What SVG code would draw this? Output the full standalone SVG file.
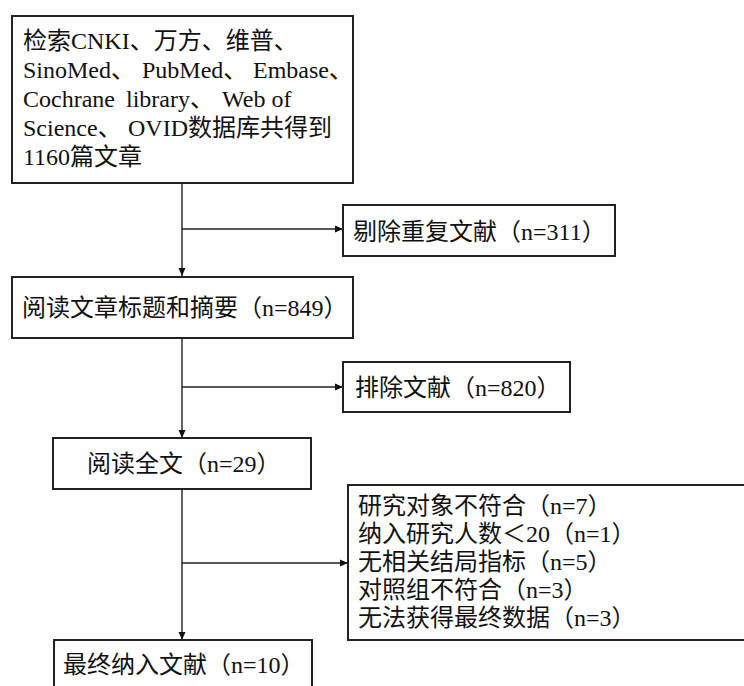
<svg xmlns="http://www.w3.org/2000/svg" width="744" height="686" viewBox="0 0 744 686">
  <defs>
    <marker id="arr" markerWidth="9" markerHeight="8" refX="8" refY="4" orient="auto" markerUnits="userSpaceOnUse">
      <path d="M0,0.5 L8,4 L0,7.5 Z" fill="#111"/>
    </marker>
    <style>
      .box { fill: #fff; stroke: #222; stroke-width: 2; }
      .t { font-family: 'Liberation Serif', 'Noto Sans CJK SC', serif; font-size: 24px; fill: #111; }
      .l { font-family: 'Liberation Serif', serif; }
      .c { fill: none; stroke: #222; stroke-width: 1.4; }
    </style>
  </defs>
  <rect width="744" height="686" fill="#fff"/>

  <g id="connectors">
    <line class="c" x1="182" y1="183" x2="182" y2="276" marker-end="url(#arr)"/>
    <line class="c" x1="182" y1="229" x2="343" y2="229" marker-end="url(#arr)"/>
    <line class="c" x1="182" y1="338" x2="182" y2="438" marker-end="url(#arr)"/>
    <line class="c" x1="182" y1="387" x2="343" y2="387" marker-end="url(#arr)"/>
    <line class="c" x1="182" y1="489" x2="182" y2="640" marker-end="url(#arr)"/>
    <line class="c" x1="182" y1="563" x2="348" y2="563" marker-end="url(#arr)"/>
  </g>

  <g id="search">
    <rect class="box" x="12" y="16" width="341" height="167"/>
    <text class="t">
      <tspan x="23" y="49">检索<tspan class="l">CNKI</tspan>、万方、维普、</tspan>
      <tspan x="23" y="78" class="l">SinoMed</tspan><tspan>、</tspan><tspan x="142" y="78" class="l">PubMed</tspan><tspan>、</tspan><tspan x="253" y="78" class="l">Embase</tspan><tspan>、</tspan>
      <tspan x="23" y="107" class="l">Cochrane</tspan><tspan x="126" y="107" class="l">library</tspan><tspan>、</tspan><tspan x="222" y="107" class="l">Web of</tspan>
      <tspan x="23" y="136" class="l">Science</tspan><tspan>、</tspan><tspan x="128" y="136" class="l">OVID</tspan><tspan>数据库共得到</tspan>
      <tspan x="23" y="165" class="l">1160</tspan><tspan>篇文章</tspan>
    </text>
  </g>

  <g id="dup">
    <rect class="box" x="343" y="205" width="272" height="51"/>
    <text class="t" x="353" y="240">剔除重复文献（<tspan class="l">n=311</tspan>）</text>
  </g>

  <g id="title">
    <rect class="box" x="12" y="277" width="341" height="61"/>
    <text class="t" x="22" y="316">阅读文章标题和摘要（<tspan class="l">n=849</tspan>）</text>
  </g>

  <g id="excl1">
    <rect class="box" x="343" y="362" width="227" height="50"/>
    <text class="t" x="355" y="396">排除文献（<tspan class="l">n=820</tspan>）</text>
  </g>

  <g id="full">
    <rect class="box" x="53" y="438" width="258" height="51"/>
    <text class="t" x="87" y="472">阅读全文（<tspan class="l">n=29</tspan>）</text>
  </g>

  <g id="excl2">
    <rect class="box" x="348" y="485" width="420" height="155"/>
    <text class="t">
      <tspan x="358" y="514">研究对象不符合（<tspan class="l">n=7</tspan>）</tspan>
      <tspan x="358" y="542">纳入研究人数＜<tspan class="l">20</tspan>（<tspan class="l">n=1</tspan>）</tspan>
      <tspan x="358" y="570">无相关结局指标（<tspan class="l">n=5</tspan>）</tspan>
      <tspan x="358" y="598">对照组不符合（<tspan class="l">n=3</tspan>）</tspan>
      <tspan x="358" y="626">无法获得最终数据（<tspan class="l">n=3</tspan>）</tspan>
    </text>
  </g>

  <g id="final">
    <rect class="box" x="54" y="640" width="258" height="70"/>
    <text class="t" x="63" y="673">最终纳入文献（<tspan class="l">n=10</tspan>）</text>
  </g>
</svg>
